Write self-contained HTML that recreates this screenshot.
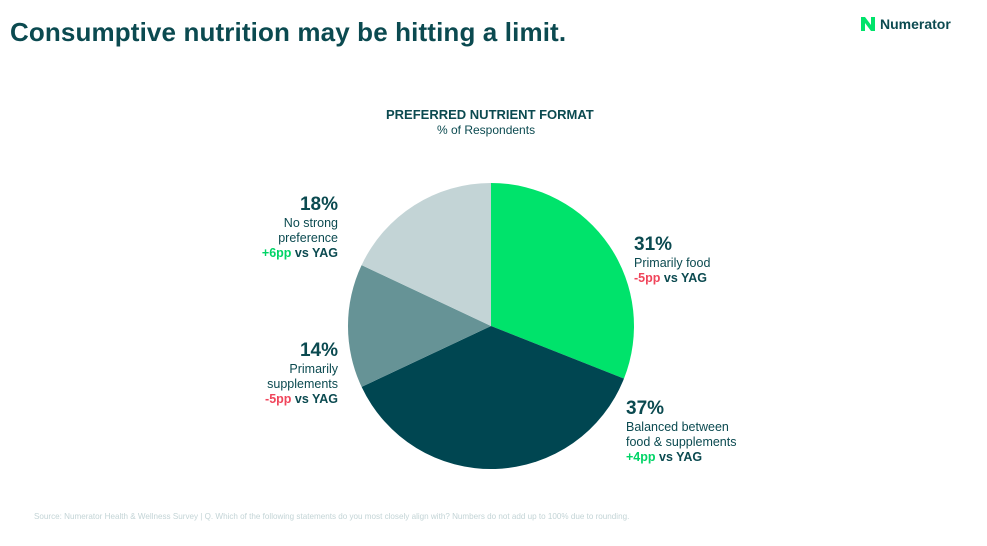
<!DOCTYPE html>
<html><head><meta charset="utf-8"><style>
body{margin:0;width:987px;height:546px;background:#fff;font-family:"Liberation Sans",sans-serif;position:relative;overflow:hidden;color:#0b4a50}
.a{position:absolute}
h1{position:absolute;left:10px;top:17px;margin:0;font-size:26px;font-weight:bold;color:#0b4a50;letter-spacing:0.13px}
.big{font-size:19px;font-weight:bold}
.sm{font-size:12.5px;line-height:15px}
.g{color:#00d466;font-weight:bold}.r{color:#f0455b;font-weight:bold}.b{font-weight:bold}
</style></head><body>
<h1>Consumptive nutrition may be hitting a limit.</h1>
<div class="a" style="left:861px;top:17px;width:14px;height:14px">
<svg width="14" height="14" viewBox="0 0 14 14"><path d="M0 0h4l6 8V0h4v14h-4L4 6v8H0z" fill="#00e36b"/></svg></div>
<div class="a b" style="left:880px;top:16px;font-size:14px;color:#0b4a50">Numerator</div>
<div class="a b" style="left:386px;top:107px;font-size:13px">PREFERRED NUTRIENT FORMAT</div>
<div class="a" style="left:437px;top:123px;font-size:12px">% of Respondents</div>
<svg class="a" style="left:0;top:0" width="987" height="546">
<path d="M491 326L491 183A143 143 0 0 1 623.96 378.64Z" fill="#00e36b"/>
<path d="M491 326L623.96 378.64A143 143 0 0 1 361.6 386.9Z" fill="#004651"/>
<path d="M491 326L361.6 386.9A143 143 0 0 1 361.6 265.1Z" fill="#669396"/>
<path d="M491 326L361.6 265.1A143 143 0 0 1 491 183Z" fill="#c3d4d6"/>
</svg>
<div class="a" style="left:634px;top:234px"><div class="big">31%</div><div class="sm">Primarily food<br><span class="r">-5pp</span> <span class="b">vs YAG</span></div></div>
<div class="a" style="left:626px;top:398px"><div class="big">37%</div><div class="sm">Balanced between<br>food &amp; supplements<br><span class="g">+4pp</span> <span class="b">vs YAG</span></div></div>
<div class="a" style="right:649px;top:340px;text-align:right"><div class="big">14%</div><div class="sm">Primarily<br>supplements<br><span class="r">-5pp</span> <span class="b">vs YAG</span></div></div>
<div class="a" style="right:649px;top:194px;text-align:right"><div class="big">18%</div><div class="sm">No strong<br>preference<br><span class="g">+6pp</span> <span class="b">vs YAG</span></div></div>
<div class="a" style="left:34px;top:512px;font-size:8.1px;color:#c3d4d6">Source: Numerator Health &amp; Wellness Survey | Q. Which of the following statements do you most closely align with? Numbers do not add up to 100% due to rounding.</div>
</body></html>
